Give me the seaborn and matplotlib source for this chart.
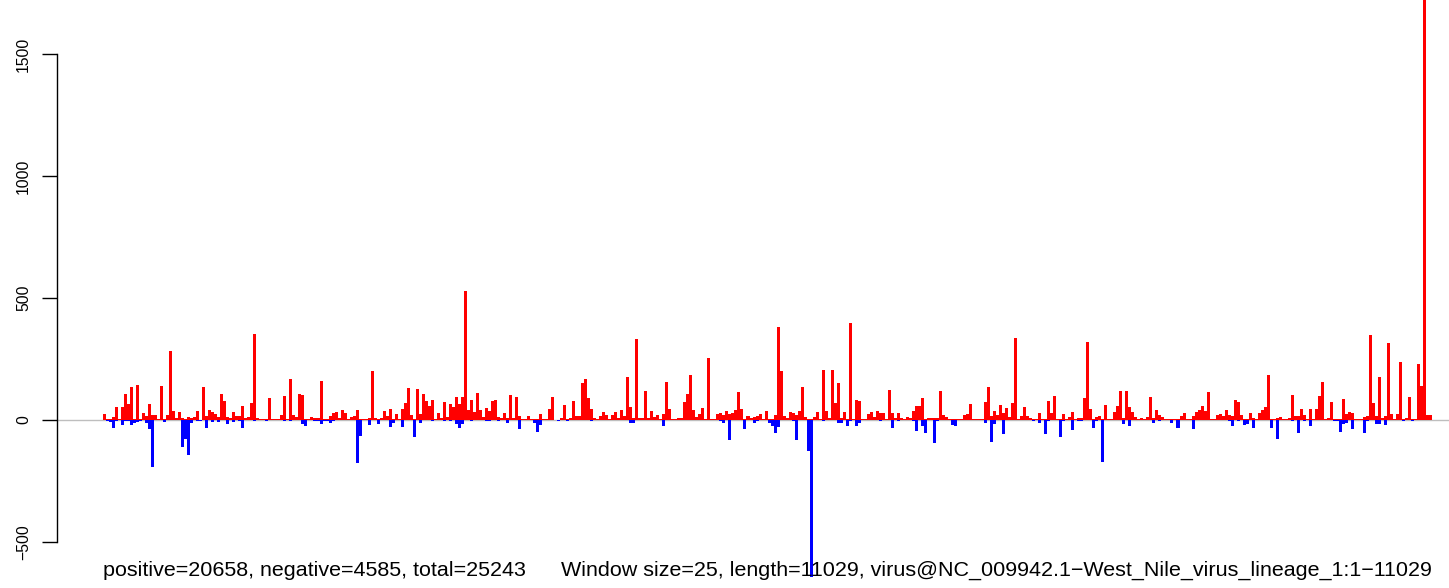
import matplotlib
matplotlib.use("Agg")
import matplotlib.pyplot as plt
import numpy as np
import pandas as pd
import seaborn as sns

# ---- data (per 25-nt window) ----
positive_counts = [
    25, 4, 3, 14, 55, 3, 55, 107, 66, 135, 5, 143, 3, 30, 16, 66, 20, 20, 3, 139,
    5, 20, 283, 37, 8, 33, 8, 3, 12, 10, 14, 37, 2, 135, 16, 41, 33, 25, 12, 107,
    78, 12, 8, 33, 16, 16, 57, 7, 12, 70, 352, 8, 3, 5, 3, 90, 4, 4, 3, 20,
    98, 3, 168, 20, 12, 107, 101, 4, 3, 12, 8, 8, 160, 5, 4, 16, 29, 33, 8, 41, 30,
    3, 14, 16, 41, 3, 3, 3, 10, 201, 8, 3, 8, 37, 16, 46, 3, 25, 5, 46, 70,
    131, 20, 5, 127, 25, 107, 78, 57, 82, 3, 29, 8, 74, 12, 66, 53, 94, 66, 94, 529,
    41, 82, 33, 111, 41, 12, 49, 37, 78, 82, 12, 8, 29, 8, 102, 10, 94, 16, 3, 3,
    16, 5, 3, 3, 25, 3, 5, 45, 94, 2, 2, 10, 61, 3, 8, 78, 16, 16, 152, 168, 90,
    45, 8, 3, 16, 33, 20, 3, 20, 33, 8, 41, 16, 176, 53, 8, 332, 8, 8, 119, 8,
    37, 12, 20, 3, 25, 156, 45, 3, 3, 8, 8, 74, 107, 184, 41, 12, 25, 49, 5, 254,
    3, 3, 25, 29, 20, 37, 25, 29, 41, 115, 45, 5, 16, 8, 12, 16, 25, 3, 37, 3,
    5, 20, 381, 201, 16, 8, 33, 29, 20, 37, 135, 12, 5, 3, 12, 33, 5, 205, 37, 8, 205,
    70, 152, 8, 33, 3, 398, 3, 82, 78, 3, 3, 25, 33, 12, 37, 29, 29, 3, 123, 29,
    8, 29, 8, 3, 12, 8, 37, 57, 57, 90, 3, 8, 8, 8, 8, 119, 20, 12, 3, 3, 3,
    5, 3, 20, 25, 66, 5, 3, 5, 3, 74, 135, 16, 37, 20, 61, 29, 49, 12, 70, 336,
    3, 16, 53, 16, 8, 3, 5, 29, 3, 5, 78, 29, 98, 5, 5, 25, 3, 12, 33, 3,
    8, 8, 90, 320, 45, 3, 12, 16, 5, 61, 3, 5, 33, 57, 119, 8, 119, 53, 33, 12,
    3, 8, 5, 12, 94, 8, 41, 20, 12, 3, 3, 3, 3, 3, 16, 29, 3, 3, 16, 33, 41,
    57, 37, 115, 3, 3, 20, 25, 16, 41, 20, 16, 82, 74, 20, 3, 5, 29, 8, 5, 29,
    41, 53, 184, 5, 3, 8, 12, 5, 5, 8, 102, 16, 16, 45, 20, 5, 45, 3, 45, 98,
    156, 5, 8, 74, 3, 3, 5, 86, 25, 33, 29, 3, 3, 3, 12, 16, 348, 70, 16, 176,
    8, 16, 316, 25, 3, 25, 238, 3, 8, 94, 3, 3, 229, 139, 1760, 20, 20,
]
negative_counts = [
    0, -3, -7, -31, -3, 0, -19, -3, -3, -19, -14, -7, -3, 0, -11, -36, -191, 0, 0, 0,
    -7, 0, 0, 0, 0, 0, -109, -77, -142, -11, 0, -3, -5, 0, -31, 0, -7, 0, -7, 0,
    0, -16, 0, -7, 0, -3, -31, 0, 0, 0, -3, 0, 0, 0, -5, 0, 0, 0, 0, 0,
    -3, 0, -3, 0, 0, 0, -16, -25, 0, 0, -3, -5, -16, -5, -3, -11, -5, 0, 0, 0, 0,
    0, 0, 0, -175, -64, 0, 0, -19, 0, 0, -15, 0, 0, 0, -27, -11, 0, 0, -27, 0,
    0, 0, -68, 0, -11, 0, 0, 0, -5, 0, 0, 0, -5, 0, -5, 0, -16, -31, -16, 0,
    0, -5, 0, 0, 0, 0, -5, -5, 0, 0, -5, 0, 0, -11, 0, 0, 0, -36, 0, 0,
    0, 0, -11, -48, -19, 0, 0, 0, 0, 0, -3, 0, 0, -3, 0, 0, 0, 0, 0, 0, 0,
    -5, 0, 0, 0, 0, 0, 0, 0, 0, 0, 0, 0, 0, -11, -11, 0, 0, 0, 0, 0,
    0, 0, 0, 0, -23, 0, 0, 0, 0, 0, 0, 0, 0, 0, 0, 0, 0, 0, 0, 0,
    0, 0, 0, -3, -11, 0, -81, 0, 0, 0, 0, -36, 0, 0, -11, -5, 0, 0, 0, -11,
    -23, -52, -27, 0, 0, 0, 0, -5, -81, 0, 0, 0, -126, -645, 0, 0, 0, -5, 0, 0, 0,
    0, -11, -11, 0, -23, -5, 0, -23, -11, 0, 0, 0, 0, 0, 0, -5, 0, 0, 0, -31,
    0, -5, 0, 0, 0, 0, -5, -44, 0, -23, -52, 0, 0, -93, -5, 0, 0, 0, 0, -19, -23,
    0, 0, 0, 0, 0, 0, 0, 0, 0, -11, 0, -89, -15, 0, 0, -56, 0, 0, 0, 0,
    0, 0, 0, 0, 0, -5, 0, -11, 0, -56, -5, 0, 0, 0, -68, -5, 0, 0, -40, 0,
    -5, -5, 0, 0, 0, -31, -5, 0, -171, 0, 0, 0, 0, 0, 0, -15, 0, -23, 0, 0,
    0, 0, 0, 0, 0, -11, 0, -5, 0, 0, 0, -11, 0, -31, 0, 0, 0, 0, -36, 0, 0,
    0, 0, 0, 0, 0, 0, 0, 0, 0, -5, -23, 0, -5, 0, -19, -15, 0, -31, 0, 0,
    0, 0, 0, -31, 0, -77, 0, 0, 0, 0, -5, 0, -52, 0, -5, 0, -23, 0, 0, 0,
    0, 0, 0, 0, -5, -5, -48, -15, -11, 0, -36, 0, 0, 0, -52, -5, 0, 0, -15, -15,
    0, -19, 0, 0, 0, 0, 0, -5, 0, 0, -5, 0, 0, 0, 0, 0, 0,
]
window_index = list(range(1, len(positive_counts) + 1))
y_ticks = [-500, 0, 500, 1000, 1500]
y_tick_labels = ["\u2212500", "0", "500", "1000", "1500"]
summary_text = "positive=20658, negative=4585, total=25243"
info_text = ("Window size=25, length=11029, "
             "virus@NC_009942.1\u2212West_Nile_virus_lineage_1:1\u221211029")

df = pd.DataFrame({
    "window": window_index * 2,
    "count": positive_counts + negative_counts,
    "strand": ["positive"] * len(positive_counts) + ["negative"] * len(negative_counts),
})

plt.rcParams["font.family"] = ["Liberation Sans", "DejaVu Sans"]

W, H = 1449, 588
fig = plt.figure(figsize=(W / 100, H / 100), dpi=100)
ax_left_px = 57
ax = fig.add_axes([ax_left_px / W, 0, (W - ax_left_px) / W, 1])
ax.set_facecolor("none")

ax.axhline(0, color="#BEBEBE", lw=1.0, zorder=0)

sns.barplot(data=df, x="window", y="count", hue="strand",
            palette={"positive": "#FF0000", "negative": "#0000FF"},
            dodge=False, width=1.0, saturation=1, linewidth=0,
            errorbar=None, legend=False, ax=ax, zorder=2)

# pixel geometry of the bars: first bar at x=103px, ~3.007px per window
px_per_bar = 3.007
first_px = 103
ax.set_xlim(-0.5 - (first_px - ax_left_px) / px_per_bar,
            -0.5 + (W - first_px) / px_per_bar)
# y geometry: zero at 420px, 0.244 px per unit
zero_px, px_per_unit = 420, 0.244
ax.set_ylim((zero_px - H) / px_per_unit, zero_px / px_per_unit)

for s in ("top", "right", "bottom"):
    ax.spines[s].set_visible(False)
ax.spines["left"].set_bounds(-500, 1500)
ax.spines["left"].set_linewidth(1.0)
ax.set_xticks([])
ax.set_yticks(y_ticks)
ax.set_yticklabels(y_tick_labels, rotation=90, va="center", fontsize=11.3)
ax.tick_params(axis="y", length=10.8, width=1.0, pad=8)
ax.set_xlabel("")
ax.set_ylabel("")

fig.text(first_px / W, (H - 576) / H, summary_text, ha="left", va="baseline",
         fontsize=15.45)
fig.text(1432 / W, (H - 576) / H, info_text, ha="right", va="baseline",
         fontsize=15.45)

fig.savefig("out.png", dpi=100)
